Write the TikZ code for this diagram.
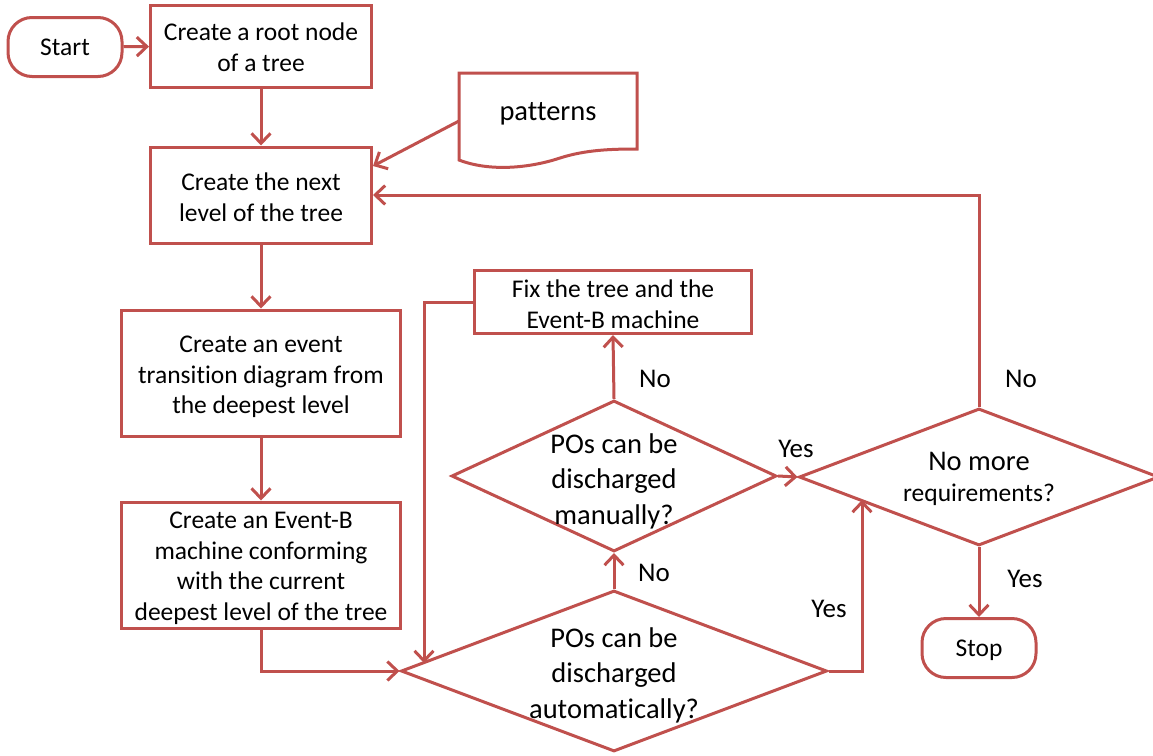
\documentclass[tikz,border=0pt]{standalone}
\usepackage{fontspec}
\setmainfont[Ligatures=NoCommon]{Carlito}
\usetikzlibrary{arrows.meta,shapes.geometric}
\definecolor{fr}{HTML}{C0504D}
\begin{document}
\begin{tikzpicture}[x=1pt,y=-1pt,
  ln/.style={draw=fr, line width=3pt},
  arr/.style={ln, -{Straight Barb[length=10pt,width=19pt,line width=3pt]}},
  box/.style={ln, fill=white, inner sep=0pt},
  btxt/.style={align=center, inner sep=0pt, font=\fontsize{25.5}{30.5}\selectfont},
  term/.style={box, rounded corners=24pt, minimum width=114pt, minimum height=59pt},
  dia/.style={ln, diamond, inner sep=0pt},
  txt/.style={align=center, inner sep=0pt, font=\fontsize{28.5}{35.5}\selectfont},
  lbl/.style={inner sep=0pt, font=\fontsize{27}{32}\selectfont}
]
\useasboundingbox (0,0) rectangle (1153,755);

\node[term] (start) at (65,47) {};
\node[btxt] (startT) at (65,47) {Start};
\node[box, minimum width=221pt, minimum height=82pt] (root) at (261,46) {};
\node[btxt] (rootT) at (261,47) {Create a root node\\of a tree};
\node[box, minimum width=221pt, minimum height=96pt] (next) at (261,195) {};
\node[btxt] (nextT) at (261,197) {Create the next\\level of the tree};
\node[box, minimum width=279pt, minimum height=126pt] (etd) at (261,373) {};
\node[btxt] (etdT) at (261,377) {Create an event\\transition diagram from\\the deepest level};
\node[box, minimum width=279pt, minimum height=126pt] (ebm) at (261,565) {};
\node[btxt] (ebmT) at (261,568.5) {Create an Event-B\\machine conforming\\with the current\\deepest level of the tree};
\node[box, minimum width=277pt, minimum height=63pt] (fix) at (613,302) {};
\node[btxt] (fixT) at (613,304) {Fix the tree and the\\Event-B machine};
\node[term] (stop) at (979,648) {};
\node[btxt] (stopT) at (979,650) {Stop};

% patterns document
\draw[ln, fill=white] (459,73) -- (637,73) -- (637,149)
  .. controls (610,149) and (585,150) .. (560,158)
  .. controls (530,168) and (490,172) .. (459,160) -- cycle;
\node[inner sep=0pt, font=\fontsize{28.5}{34}\selectfont] (pat) at (548,114) {patterns};
\coordinate (patL) at (459,121);

% diamonds
\node[dia, minimum width=426pt, minimum height=161pt] (auto) at (614,671) {};
\node[txt] (autot) at (614,675) {POs can be\\discharged\\automatically?};
\node[dia, minimum width=325pt, minimum height=151pt] (man) at (614,476) {};
\node[txt] (mant) at (614,481) {POs can be\\discharged\\manually?};
\node[dia, minimum width=360pt, minimum height=137pt] (req) at (979,477) {};
\node[inner sep=0pt, font=\fontsize{28.5}{34}\selectfont] (reqa) at (979,461) {No more};
\node[inner sep=0pt, font=\fontsize{25.5}{30}\selectfont] (reqb) at (979,495) {requirements?};

% connectors
\draw[arr] (start) -- (root);
\draw[arr] (root) -- (next);
\draw[arr] (patL) -- (next.east |- 0,166);
\draw[arr] (next) -- (etd);
\draw[arr] (etd) -- (ebm);
\draw[arr] (ebm.south) -- (ebm.south |- auto.west) -- (auto.west);
\draw[arr] (auto.north) -- (man.south);
\draw[arr] (man.north) -- (fix.south);
\coordinate (fixturn) at (424,302);
\coordinate (fixend) at (424,663);
\draw[arr] (fix.west) -- (fixturn) -- (fixend);
\draw[arr] (man.east) -- (req.west);
\coordinate (autoturn) at (862,671);
\coordinate (autoend) at (862,500);
\draw[arr] (auto.east) -- (autoturn) -- (autoend);
\coordinate (reqturn) at (979,195);
\draw[arr] (req.north) -- (reqturn) -- (next.east |- reqturn);
\draw[arr] (req.south) -- (stop.north);

% labels
\node[lbl] at (654,573) {No};
\node[lbl] at (655,379) {No};
\node[lbl] at (796,449) {Yes};
\node[lbl] at (829,609) {Yes};
\node[lbl] at (1021,379) {No};
\node[lbl] at (1025,579) {Yes};
\end{tikzpicture}
\end{document}
